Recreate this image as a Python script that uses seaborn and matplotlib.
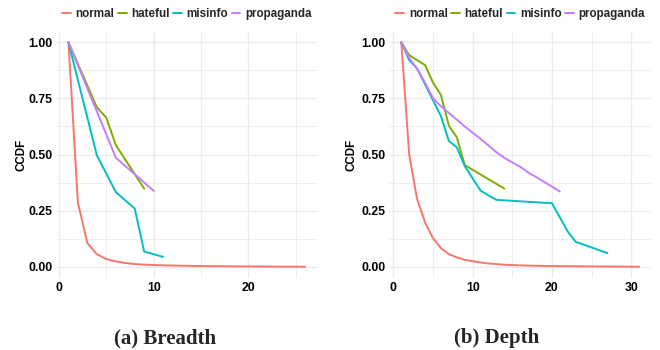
import numpy as np
import pandas as pd
import matplotlib
matplotlib.use("Agg")
import matplotlib.pyplot as plt
from matplotlib.ticker import MultipleLocator
import seaborn as sns

# ---- data ----
categories = ["normal", "hateful", "misinfo", "propaganda"]
palette = ["#F8766D", "#7CAE00", "#00BFC4", "#C77CFF"]

breadth_normal_x = list(range(1, 27))
breadth_normal_y = [1.0, 0.286, 0.105, 0.056, 0.034, 0.024, 0.017, 0.012, 0.0095, 0.0078,
                    0.0065, 0.0055, 0.0047, 0.004, 0.0034, 0.0029, 0.0025, 0.0021, 0.0018,
                    0.0015, 0.0012, 0.0009, 0.0006, 0.0004, 0.0002, 0.0001]
breadth_hateful_x = [1, 2, 3, 4, 5, 6, 7, 8, 9]
breadth_hateful_y = [1.0, 0.903, 0.807, 0.71, 0.664, 0.542, 0.477, 0.413, 0.348]
breadth_misinfo_x = [1, 2, 3, 4, 5, 6, 7, 8, 9, 11]
breadth_misinfo_y = [1.0, 0.832, 0.664, 0.496, 0.415, 0.333, 0.296, 0.259, 0.068, 0.044]
breadth_propaganda_x = [1, 2, 3, 4, 5, 6, 7, 8, 9, 10]
breadth_propaganda_y = [1.0, 0.897, 0.794, 0.692, 0.589, 0.486, 0.449, 0.412, 0.375, 0.338]

depth_normal_x = list(range(1, 32))
depth_normal_y = [1.0, 0.498, 0.301, 0.197, 0.127, 0.083, 0.056, 0.042, 0.031, 0.025, 0.019,
                  0.015, 0.012, 0.009, 0.0075, 0.0063, 0.0053, 0.0045, 0.0039, 0.0034, 0.003,
                  0.0026, 0.0022, 0.0019, 0.0016, 0.0013, 0.001, 0.0008, 0.0005, 0.0003, 0.0001]
depth_hateful_x = [1, 2, 3, 4, 5, 6, 7, 8, 9, 14]
depth_hateful_y = [1.0, 0.942, 0.92, 0.898, 0.82, 0.765, 0.628, 0.577, 0.453, 0.348]
depth_misinfo_x = [1, 2, 3, 4, 5, 6, 7, 8, 9, 10, 11, 12, 13, 20, 22, 23, 27]
depth_misinfo_y = [1.0, 0.92, 0.883, 0.812, 0.742, 0.671, 0.56, 0.532, 0.449, 0.394, 0.339,
                   0.318, 0.298, 0.283, 0.157, 0.111, 0.061]
depth_propaganda_x = list(range(1, 22))
depth_propaganda_y = [1.0, 0.93, 0.88, 0.82, 0.75, 0.715, 0.685, 0.655, 0.625, 0.597, 0.57,
                      0.54, 0.51, 0.485, 0.465, 0.445, 0.42, 0.40, 0.378, 0.357, 0.335]

x_ticks_breadth = [0, 10, 20]
x_ticks_depth = [0, 10, 20, 30]
y_ticks = [0.0, 0.25, 0.5, 0.75, 1.0]
y_tick_labels = ["0.00", "0.25", "0.50", "0.75", "1.00"]
captions = ["(a) Breadth", "(b) Depth"]
y_label = "CCDF"


def make_df(series):
    frames = []
    for cat, (xs, ys) in zip(categories, series):
        frames.append(pd.DataFrame({"x": xs, "y": ys, "type": cat}))
    return pd.concat(frames, ignore_index=True)


df_breadth = make_df([(breadth_normal_x, breadth_normal_y), (breadth_hateful_x, breadth_hateful_y),
                      (breadth_misinfo_x, breadth_misinfo_y), (breadth_propaganda_x, breadth_propaganda_y)])
df_depth = make_df([(depth_normal_x, depth_normal_y), (depth_hateful_x, depth_hateful_y),
                    (depth_misinfo_x, depth_misinfo_y), (depth_propaganda_x, depth_propaganda_y)])

sns.set_theme(style="white")
plt.rcParams["font.family"] = ["Liberation Sans", "DejaVu Sans"]

fig = plt.figure(figsize=(6.6, 3.5), dpi=100)
ax1 = fig.add_axes([56.6 / 660, 72 / 350, 260.4 / 660, 247 / 350])
ax2 = fig.add_axes([389.4 / 660, 72 / 350, 261.6 / 660, 247 / 350])

specs = [
    (ax1, df_breadth, x_ticks_breadth, (-0.25, 27.25), 21.5, 165, captions[0]),
    (ax2, df_depth, x_ticks_depth, (-0.5, 32.5), 351.5, 497, captions[1]),
]

for ax, df, xt, xlim, ylab_px, cap_x, cap in specs:
    sns.lineplot(data=df, x="x", y="y", hue="type", hue_order=categories,
                 palette=palette, linewidth=1.4, ax=ax, estimator=None, sort=False)
    ax.set_xlim(*xlim)
    ax.set_ylim(-0.05, 1.05)
    ax.set_xticks(xt)
    ax.set_xticklabels([str(v) for v in xt])
    ax.set_yticks(y_ticks)
    ax.set_yticklabels(y_tick_labels)
    ax.xaxis.set_minor_locator(MultipleLocator(5))
    ax.yaxis.set_minor_locator(MultipleLocator(0.125))
    ax.grid(which="major", color="#EBEBEB", linewidth=1.0)
    ax.grid(which="minor", color="#EBEBEB", linewidth=0.6)
    ax.set_axisbelow(True)
    for s in ax.spines.values():
        s.set_visible(False)
    ax.tick_params(which="both", length=0)
    ax.tick_params(axis="y", pad=3)
    ax.tick_params(axis="x", pad=3)
    for lab in ax.get_xticklabels() + ax.get_yticklabels():
        lab.set_fontweight("bold")
        lab.set_fontsize(8.8)
        lab.set_color("black")
    ax.set_xlabel("")
    ax.set_ylabel("")
    fig.text(ylab_px / 660, 1 - 154.5 / 350, y_label, rotation=90, ha="center", va="center",
             fontsize=8.4, fontweight="bold", color="black",
             family=["Liberation Sans", "DejaVu Sans"])
    leg = ax.legend(loc="center", bbox_to_anchor=(0.5, 1.069), ncol=4, frameon=False,
                    handlelength=0.75, handletextpad=0.4, columnspacing=0.3,
                    borderpad=0, borderaxespad=0,
                    prop={"family": "Liberation Sans", "weight": "bold", "size": 8.4})
    for h in leg.get_lines():
        h.set_linewidth(1.4)
    fig.text(cap_x / 660, 1 - 338 / 350, cap,
             ha="center", va="center", fontsize=15, fontweight="bold",
             family=["Liberation Serif", "DejaVu Serif"])

fig.savefig("out.png", dpi=100)
